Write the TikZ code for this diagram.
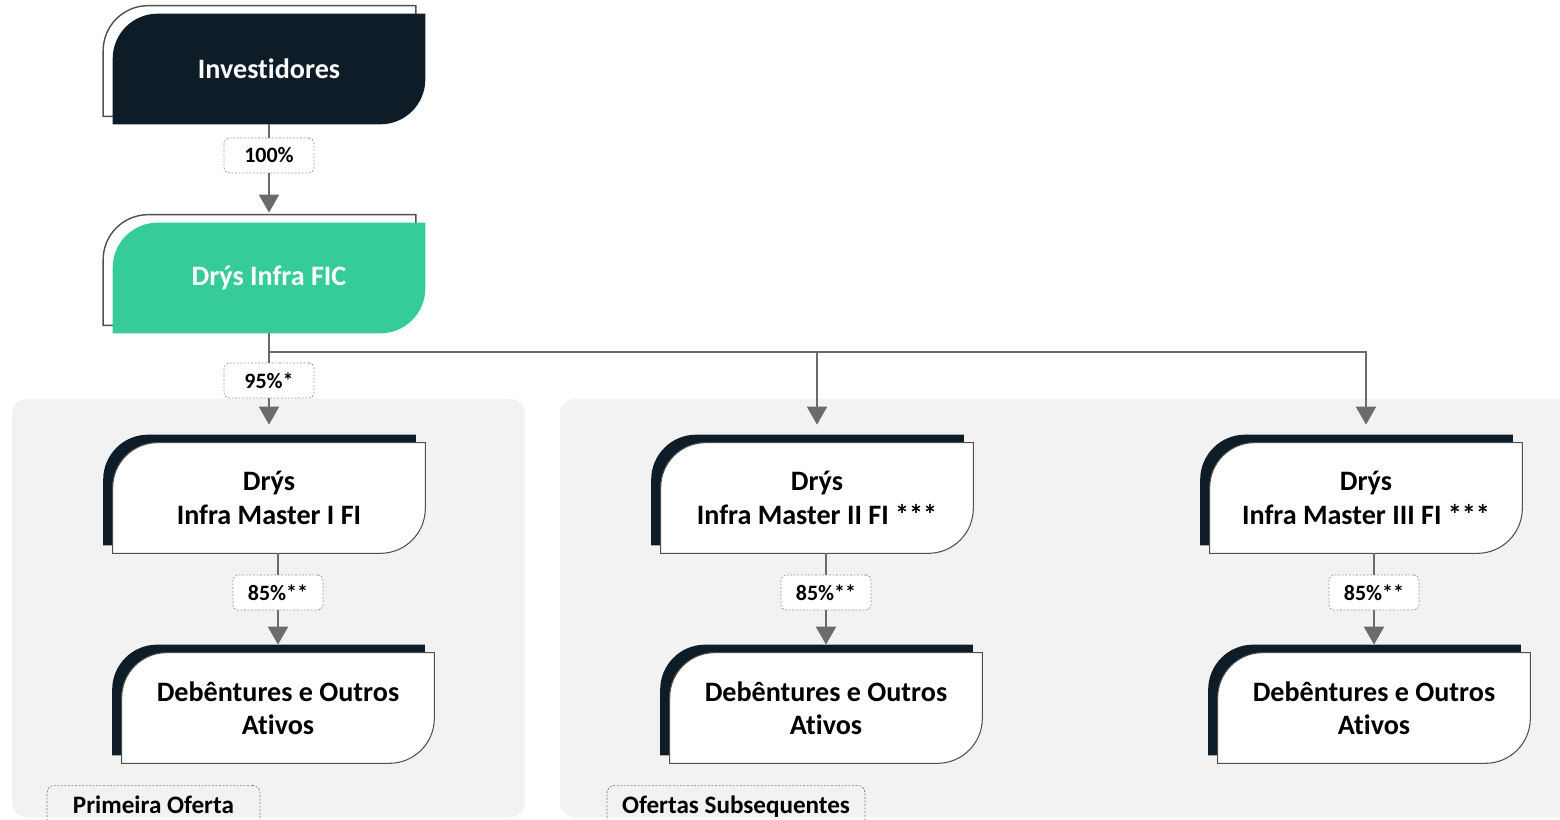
\documentclass[tikz,border=0pt]{standalone}
\usepackage{fontspec}
\setmainfont{Carlito}[Ligatures=NoCommon]
\usetikzlibrary{arrows.meta}
\definecolor{navy}{HTML}{0D1C26}
\definecolor{mint}{HTML}{35CC9A}
\definecolor{panel}{HTML}{F2F2F2}
\definecolor{wire}{HTML}{6B6B6B}
\definecolor{edge}{HTML}{505050}
\pgfdeclarelayer{back}
\pgfsetlayers{back,main}
\tikzset{
  box/.style={minimum width=6.24cm,minimum height=2.2cm,inner sep=0pt,align=center,
    font=\fontsize{16}{19}\selectfont\bfseries},
  pct/.style={draw=gray!85,dash pattern=on 1pt off 1pt,fill=white,rounded corners=0.1cm,
    minimum width=1.8cm,minimum height=0.7cm,inner sep=0pt,
    font=\fontsize{12.5}{14}\selectfont\bfseries},
  tag/.style={draw=gray!90!black,dash pattern=on 1pt off 1pt,rounded corners=0.15cm,anchor=north,
    inner ysep=0.2cm,text height=0.36cm,text depth=0.4cm,
    font=\fontsize{14.3}{16}\selectfont\bfseries},
  wire/.style={draw=wire,line width=1.1pt},
  conn/.style={wire,-{Triangle[width=0.4cm,length=0.36cm]}},
}
\newcommand\tabpath[2]{([#2]#1.south west) -- ([#2,yshift=-0.9cm]#1.north west)
  arc[start angle=180,end angle=90,radius=0.9cm] -- ([#2]#1.north east)
  -- ([#2,yshift=0.9cm]#1.south east) arc[start angle=0,end angle=-90,radius=0.9cm] -- cycle}
\begin{document}
\begin{tikzpicture}[x=0.02cm,y=0.02cm]
  \useasboundingbox (0,0) rectangle (1560,819);
  \node[box,text=white] (inv) at (269,750) {Investidores};
  \node[box,text=white] (fic) at (269,541) {Drýs Infra FIC};
  \node[box] (m1) at (269,321) {Drýs\\Infra Master I FI};
  \node[box] (m2) at (817,321) {Drýs\\Infra Master II FI ***};
  \node[box] (m3) at (1366,321) {Drýs\\Infra Master III FI ***};
  \node[box] (d1) at (278,111) {Debêntures e Outros\\Ativos};
  \node[box] (d2) at (826,111) {Debêntures e Outros\\Ativos};
  \node[box] (d3) at (1374,111) {Debêntures e Outros\\Ativos};
  \node[pct] (p100) at (269,663.5) {100\%};
  \node[pct] (p95) at (269,438.5) {95\%*};
  \node[pct] (p85a) at (278,226.5) {85\%**};
  \node[pct] (p85b) at (826,226.5) {85\%**};
  \node[pct] (p85c) at (1374,226.5) {85\%**};
  \node[tag,minimum width=4.26cm] (first) at (153.5,34) {Primeira Oferta};
  \node[tag,minimum width=5.16cm] (next) at (736,34) {Ofertas Subsequentes};
  \coordinate (split) at ([yshift=-0.38cm]fic.south);

  \draw[wire] (inv) -- (p100);
  \draw[conn,shorten >=0.2cm] (p100) -- (fic.north);
  \draw[wire] (fic) -- (p95);
  \draw[conn,shorten >=0.36cm] (p95) -- (m1.north);
  \draw[conn,shorten >=0.36cm] (split) -| (m2.north);
  \draw[conn,shorten >=0.36cm] (split) -| (m3.north);
  \draw[wire] (m1.south -| d1.north) -- (p85a);
  \draw[wire] (m2.south -| d2.north) -- (p85b);
  \draw[wire] (m3.south -| d3.north) -- (p85c);
  \draw[conn,shorten >=0.16cm] (p85a) -- (d1.north);
  \draw[conn,shorten >=0.16cm] (p85b) -- (d2.north);
  \draw[conn,shorten >=0.16cm] (p85c) -- (d3.north);

  \begin{pgfonlayer}{back}
    \fill[panel,rounded corners=0.3cm] (12,2) rectangle (525,420);
    \fill[panel,rounded corners=0.3cm] (560,2) rectangle (1600,420);
    \filldraw[fill=white,draw=edge,line width=0.8pt] \tabpath{inv}{xshift=-0.19cm,yshift=0.16cm};
    \fill[navy] \tabpath{inv}{xshift=0pt};
    \filldraw[fill=white,draw=edge,line width=0.8pt] \tabpath{fic}{xshift=-0.19cm,yshift=0.16cm};
    \fill[mint] \tabpath{fic}{xshift=0pt};
    \foreach \n in {m1,m2,m3,d1,d2,d3} {
      \fill[navy] \tabpath{\n}{xshift=-0.19cm,yshift=0.16cm};
      \filldraw[fill=white,draw=edge,line width=0.6pt] \tabpath{\n}{xshift=0pt};
    }
  \end{pgfonlayer}
\end{tikzpicture}
\end{document}
